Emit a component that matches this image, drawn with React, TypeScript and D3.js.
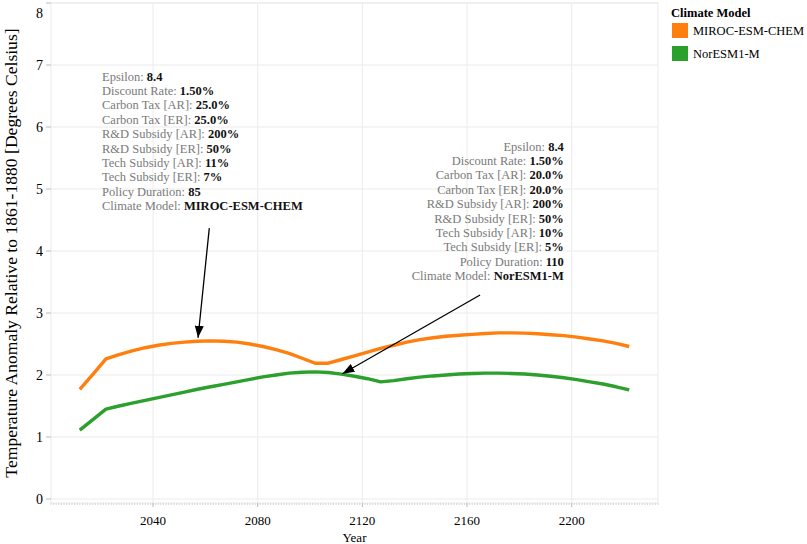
import * as d3 from "d3";

// model output, 5-year steps
const YEARS = [
  2012, 2017, 2022, 2027, 2032, 2037, 2042, 2047, 2052, 2057, 2062, 2067, 2072, 2077, 2082,
  2087, 2092, 2097, 2102, 2107, 2112, 2117, 2122, 2127, 2132, 2137, 2142, 2147, 2152, 2157,
  2162, 2167, 2172, 2177, 2182, 2187, 2192, 2197, 2202, 2207, 2212, 2217, 2222,
];
const MIROC = [
  1.77, 2.01, 2.26, 2.33, 2.39, 2.44, 2.48, 2.51, 2.53, 2.545, 2.55, 2.545, 2.53, 2.5, 2.46,
  2.41, 2.35, 2.27, 2.19, 2.19, 2.25, 2.31, 2.37, 2.43, 2.48, 2.53, 2.57, 2.6, 2.625, 2.64,
  2.655, 2.67, 2.68, 2.68, 2.675, 2.665, 2.65, 2.635, 2.61, 2.58, 2.55, 2.51, 2.46,
];
const NORESM = [
  1.11, 1.28, 1.45, 1.5, 1.545, 1.59, 1.635, 1.68, 1.725, 1.77, 1.81, 1.85, 1.89, 1.93, 1.97,
  2.0, 2.03, 2.045, 2.05, 2.04, 2.015, 1.98, 1.94, 1.89, 1.91, 1.94, 1.965, 1.985, 2.0, 2.015,
  2.025, 2.03, 2.03, 2.025, 2.015, 2.0, 1.98, 1.955, 1.925, 1.89, 1.855, 1.81, 1.76,
];

const MODELS = ["MIROC-ESM-CHEM", "NorESM1-M"];
const COLORS = ["#ff7f0e", "#2ca02c"];
const X_TICKS = [2040, 2080, 2120, 2160, 2200];
const Y_TICKS = [0, 1, 2, 3, 4, 5, 6, 7, 8];

const NOTE_LABELS = [
  "Epsilon: ",
  "Discount Rate: ",
  "Carbon Tax [AR]: ",
  "Carbon Tax [ER]: ",
  "R&D Subsidy [AR]: ",
  "R&D Subsidy [ER]: ",
  "Tech Subsidy [AR]: ",
  "Tech Subsidy [ER]: ",
  "Policy Duration: ",
  "Climate Model: ",
];
const NOTE_MIROC = ["8.4", "1.50%", "25.0%", "25.0%", "200%", "50%", "11%", "7%", "85", "MIROC-ESM-CHEM"];
const NOTE_NOR = ["8.4", "1.50%", "20.0%", "20.0%", "200%", "50%", "10%", "5%", "110", "NorESM1-M"];

// arrows in data units: [year, value] from -> to
const ARROW_MIROC = [[2061.5, 4.37], [2057.2, 2.6]];
const ARROW_NOR = [[2165, 3.29], [2112.4, 2.02]];

const W = 807;
const H = 544;
const FONT = "Liberation Serif, Times New Roman, serif";

export default function App() {
  const x = d3.scaleLinear([2001, 2233], [51, 658]);
  const y = d3.scaleLinear([0, 8], [499, 3]);
  const plotBottom = 503;

  const line = d3
    .line<[number, number]>()
    .x((d) => x(d[0]))
    .y((d) => y(d[1]));

  const series = [MIROC, NORESM].map((vals) => YEARS.map((yr, i) => [yr, vals[i]] as [number, number]));
  const minor = d3.range(2001, 2234);

  const note = (vals: string[], ax: number, ay: number, anchor: "start" | "end") =>
    NOTE_LABELS.map((lab, i) => (
      <text key={i} x={ax} y={ay + i * 14.4} dy="0.35em" textAnchor={anchor} fontSize={12.5}>
        <tspan fill="#7a7a7a">{lab}</tspan>
        <tspan fill="#111" fontWeight="bold">
          {vals[i]}
        </tspan>
      </text>
    ));

  const arrow = (a: number[][], k: string) => (
    <line
      key={k}
      x1={x(a[0][0])}
      y1={y(a[0][1])}
      x2={x(a[1][0])}
      y2={y(a[1][1])}
      stroke="#000"
      strokeWidth={1.3}
      markerEnd="url(#arrowhead)"
    />
  );

  return (
    <svg
      width={W}
      height={H}
      style={{ position: "absolute", left: 0, top: 0, background: "#fff", fontFamily: FONT }}
    >
      <defs>
        <marker
          id="arrowhead"
          markerUnits="userSpaceOnUse"
          markerWidth={12}
          markerHeight={9}
          refX={12}
          refY={4.5}
          orient="auto"
        >
          <path d="M0,0 L12,4.5 L0,9 Z" fill="#000" />
        </marker>
      </defs>

      {/* frame + grid */}
      <rect x={51} y={3} width={607} height={plotBottom - 3} fill="none" stroke="#ebebeb" />
      {X_TICKS.map((t) => (
        <line key={t} x1={x(t)} x2={x(t)} y1={3} y2={plotBottom} stroke="#ebebeb" />
      ))}
      {Y_TICKS.map((t) => (
        <line key={t} x1={51} x2={658} y1={y(t)} y2={y(t)} stroke="#ebebeb" />
      ))}

      {/* y axis */}
      {Y_TICKS.map((t) => (
        <g key={t}>
          <line x1={46} x2={51} y1={y(t)} y2={y(t)} stroke="#bbb" />
          <text x={43} y={t === 8 ? y(t) + 10 : y(t)} dy="0.35em" textAnchor="end" fontSize={14}>
            {t}
          </text>
        </g>
      ))}
      <text
        transform={`translate(17,${(3 + plotBottom) / 2}) rotate(-90)`}
        textAnchor="middle"
        fontSize={17.6}
      >
        Temperature Anomaly Relative to 1861-1880 [Degrees Celsius]
      </text>

      {/* x axis */}
      {minor.map((t) => (
        <line key={t} x1={x(t)} x2={x(t)} y1={plotBottom} y2={plotBottom + 2} stroke="#ccc" strokeWidth={0.8} />
      ))}
      {X_TICKS.map((t) => (
        <g key={t}>
          <line x1={x(t)} x2={x(t)} y1={plotBottom} y2={plotBottom + 4} stroke="#bbb" />
          <text x={x(t)} y={520} dy="0.35em" textAnchor="middle" fontSize={13}>
            {t}
          </text>
        </g>
      ))}
      <text x={(51 + 658) / 2} y={537} dy="0.35em" textAnchor="middle" fontSize={13}>
        Year
      </text>

      {/* series */}
      {series.map((s, i) => (
        <path key={i} d={line(s) ?? ""} fill="none" stroke={COLORS[i]} strokeWidth={3.4} strokeLinejoin="round" />
      ))}

      {/* annotations */}
      {note(NOTE_MIROC, x(2020.5), y(6.82), "start")}
      {note(NOTE_NOR, x(2197), y(5.69), "end")}
      {arrow(ARROW_MIROC, "a1")}
      {arrow(ARROW_NOR, "a2")}

      {/* legend */}
      <text x={671} y={13} dy="0.35em" fontSize={12.5} fontWeight="bold">
        Climate Model
      </text>
      {MODELS.map((m, i) => (
        <g key={m} transform={`translate(672,${23 + i * 23})`}>
          <rect width={16} height={15} fill={COLORS[i]} />
          <text x={21} y={7.5} dy="0.35em" fontSize={12.5}>
            {m}
          </text>
        </g>
      ))}
    </svg>
  );
}
